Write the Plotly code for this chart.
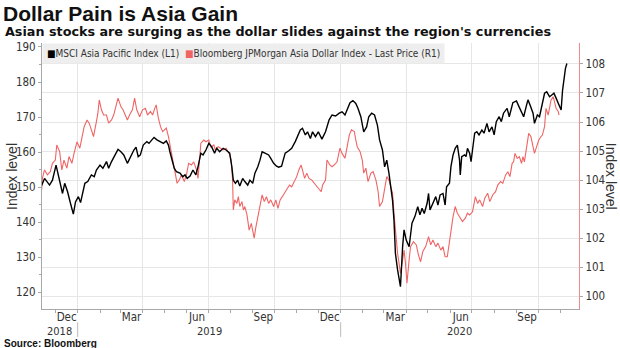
import plotly.graph_objects as go
import pandas as pd

# ---------------- data ----------------
msci_dates = [
    "2018-11-12","2018-11-16","2018-11-23","2018-11-27","2018-12-02","2018-12-07","2018-12-11","2018-12-14",
    "2018-12-18","2018-12-22","2018-12-26","2018-12-29","2019-01-02","2019-01-05","2019-01-08","2019-01-11",
    "2019-01-15","2019-01-20","2019-01-24","2019-01-27","2019-02-01","2019-02-05","2019-02-10","2019-02-13",
    "2019-02-17","2019-02-21","2019-02-26","2019-03-02","2019-03-06","2019-03-11","2019-03-15","2019-03-20",
    "2019-03-23","2019-03-26","2019-03-29","2019-04-02","2019-04-07","2019-04-10","2019-04-14","2019-04-17",
    "2019-04-21","2019-04-25","2019-04-30","2019-05-04","2019-05-07","2019-05-09","2019-05-12","2019-05-15",
    "2019-05-18","2019-05-23","2019-05-27","2019-05-30","2019-06-02","2019-06-06","2019-06-10","2019-06-14",
    "2019-06-17","2019-06-21","2019-06-24","2019-06-28","2019-07-02","2019-07-06","2019-07-10","2019-07-13",
    "2019-07-17","2019-07-22","2019-07-26","2019-07-31","2019-08-03","2019-08-05","2019-08-08","2019-08-11",
    "2019-08-14","2019-08-18","2019-08-21","2019-08-25","2019-08-28","2019-09-01","2019-09-04","2019-09-08",
    "2019-09-11","2019-09-14","2019-09-18","2019-09-23","2019-09-26","2019-09-30","2019-10-04","2019-10-07",
    "2019-10-11","2019-10-16","2019-10-21","2019-10-25","2019-10-30","2019-11-02","2019-11-06","2019-11-09",
    "2019-11-13","2019-11-16","2019-11-20","2019-11-23","2019-11-27","2019-12-01","2019-12-06","2019-12-11",
    "2019-12-16","2019-12-20","2019-12-25","2019-12-30","2020-01-03","2020-01-07","2020-01-10","2020-01-14",
    "2020-01-18","2020-01-22","2020-01-25","2020-01-29","2020-02-02","2020-02-06","2020-02-09","2020-02-13",
    "2020-02-17","2020-02-21","2020-02-24","2020-02-28","2020-03-02","2020-03-05","2020-03-08","2020-03-10",
    "2020-03-13","2020-03-15","2020-03-17","2020-03-20","2020-03-22","2020-03-24","2020-03-27","2020-03-29",
    "2020-04-01","2020-04-05","2020-04-09","2020-04-13","2020-04-17","2020-04-20","2020-04-23","2020-04-26",
    "2020-04-30","2020-05-02","2020-05-04","2020-05-08","2020-05-12","2020-05-15","2020-05-18","2020-05-22",
    "2020-05-25","2020-05-27","2020-05-31","2020-06-02","2020-06-05","2020-06-08","2020-06-11","2020-06-14",
    "2020-06-15","2020-06-17","2020-06-21","2020-06-23","2020-06-25","2020-06-28","2020-06-30","2020-07-02",
    "2020-07-05","2020-07-08","2020-07-11","2020-07-15","2020-07-18","2020-07-22","2020-07-25","2020-07-29",
    "2020-08-01","2020-08-04","2020-08-08","2020-08-11","2020-08-14","2020-08-19","2020-08-22","2020-08-27",
    "2020-09-01","2020-09-04","2020-09-08","2020-09-11","2020-09-15","2020-09-17","2020-09-20","2020-09-24",
    "2020-09-26","2020-09-30","2020-10-03","2020-10-06","2020-10-10","2020-10-13","2020-10-17","2020-10-20",
    "2020-10-23","2020-10-26","2020-10-30","2020-11-02","2020-11-04","2020-11-06","2020-11-08","2020-11-10",
]
msci_values = [
    150.5,152.5,150.6,152.0,156.3,151.6,148.2,151.1,
    148.7,145.4,142.3,145.8,147.3,145.6,148.2,151.1,
    151.6,153.5,153.0,154.9,156.3,155.4,157.3,155.4,
    157.3,158.7,160.8,160.1,159.2,156.8,158.7,160.6,
    161.4,158.7,159.2,162.0,163.0,162.5,163.5,164.2,
    163.5,163.0,162.5,163.2,162.0,160.1,157.3,155.4,
    154.4,154.0,153.0,153.5,152.5,153.2,154.9,153.5,
    155.8,159.7,159.2,160.6,162.5,161.5,159.7,161.1,
    160.1,161.1,160.6,159.7,155.8,152.0,151.1,152.0,
    150.3,152.5,151.6,150.6,152.0,151.1,154.0,155.8,
    157.7,160.1,159.7,159.2,158.2,156.8,156.0,155.7,
    156.0,159.7,160.4,161.1,163.0,164.4,166.3,166.8,
    164.9,165.8,163.9,165.8,164.4,165.8,163.7,165.8,
    169.2,170.6,170.3,171.1,171.5,170.6,172.0,174.1,
    174.7,173.9,172.5,170.1,165.8,167.2,170.1,171.1,
    170.6,167.7,163.5,160.6,155.8,157.7,154.0,151.1,
    146.3,140.6,131.1,126.4,124.5,121.6,133.0,137.8,
    134.9,133.0,139.7,141.6,144.4,142.1,144.0,142.5,
    145.4,148.2,143.5,145.4,147.3,144.9,147.8,148.2,
    144.9,150.1,151.1,155.8,159.2,161.1,162.0,157.7,
    153.5,158.7,159.2,158.7,161.1,159.7,157.3,160.6,
    165.4,165.8,164.9,166.3,165.4,168.2,165.8,167.2,
    164.9,168.7,170.1,168.7,171.1,172.5,170.1,174.1,
    174.6,173.2,171.5,170.1,173.4,174.9,173.4,171.1,
    168.2,170.6,170.1,173.4,176.8,177.2,175.8,176.3,
    176.8,175.4,173.4,172.0,177.7,181.5,183.9,185.3,
]

adxy_dates = [
    "2018-11-12","2018-11-13","2018-11-16","2018-11-20","2018-11-24","2018-11-27","2018-12-01","2018-12-03",
    "2018-12-07","2018-12-10","2018-12-13","2018-12-17","2018-12-20","2018-12-24","2018-12-27","2018-12-31",
    "2019-01-04","2019-01-07","2019-01-10","2019-01-14","2019-01-17","2019-01-20","2019-01-23","2019-01-27",
    "2019-01-29","2019-01-31","2019-02-03","2019-02-06","2019-02-10","2019-02-13","2019-02-17","2019-02-20",
    "2019-02-24","2019-02-26","2019-03-02","2019-03-05","2019-03-08","2019-03-11","2019-03-14","2019-03-18",
    "2019-03-21","2019-03-24","2019-03-28","2019-04-01","2019-04-05","2019-04-08","2019-04-12","2019-04-15",
    "2019-04-18","2019-04-20","2019-04-23","2019-04-26","2019-04-29","2019-05-02","2019-05-04","2019-05-07",
    "2019-05-10","2019-05-13","2019-05-16","2019-05-19","2019-05-22","2019-05-25","2019-05-29","2019-06-01",
    "2019-06-04","2019-06-08","2019-06-11","2019-06-15","2019-06-17","2019-06-19","2019-06-21","2019-06-25",
    "2019-06-28","2019-07-02","2019-07-05","2019-07-09","2019-07-11","2019-07-15","2019-07-18","2019-07-22",
    "2019-07-26","2019-07-31","2019-08-02","2019-08-04","2019-08-05","2019-08-07","2019-08-10","2019-08-12",
    "2019-08-14","2019-08-17","2019-08-19","2019-08-21","2019-08-24","2019-08-27","2019-08-30","2019-09-01",
    "2019-09-03","2019-09-05","2019-09-08","2019-09-11","2019-09-14","2019-09-17","2019-09-20","2019-09-23",
    "2019-09-26","2019-09-30","2019-10-03","2019-10-06","2019-10-09","2019-10-12","2019-10-16","2019-10-19",
    "2019-10-22","2019-10-25","2019-10-29","2019-11-01","2019-11-04","2019-11-07","2019-11-09","2019-11-12",
    "2019-11-15","2019-11-18","2019-11-22","2019-11-26","2019-12-01","2019-12-05","2019-12-07","2019-12-11",
    "2019-12-13","2019-12-17","2019-12-20","2019-12-23","2019-12-27","2019-12-31","2020-01-03","2020-01-07",
    "2020-01-09","2020-01-13","2020-01-16","2020-01-20","2020-01-22","2020-01-24","2020-01-28","2020-01-31",
    "2020-02-02","2020-02-05","2020-02-08","2020-02-12","2020-02-15","2020-02-19","2020-02-22","2020-02-24",
    "2020-02-28","2020-03-02","2020-03-05","2020-03-08","2020-03-10","2020-03-13","2020-03-15","2020-03-17",
    "2020-03-20","2020-03-22","2020-03-24","2020-03-27","2020-03-29","2020-03-31","2020-04-02","2020-04-05",
    "2020-04-07","2020-04-11","2020-04-15","2020-04-18","2020-04-21","2020-04-24","2020-04-28","2020-05-02",
    "2020-05-05","2020-05-08","2020-05-12","2020-05-15","2020-05-19","2020-05-22","2020-05-25","2020-05-28",
    "2020-05-30","2020-06-02","2020-06-05","2020-06-08","2020-06-11","2020-06-14","2020-06-18","2020-06-22",
    "2020-06-25","2020-06-28","2020-07-02","2020-07-06","2020-07-09","2020-07-12","2020-07-16","2020-07-19",
    "2020-07-23","2020-07-26","2020-07-30","2020-08-03","2020-08-06","2020-08-10","2020-08-13","2020-08-17",
    "2020-08-20","2020-08-23","2020-08-26","2020-08-28","2020-08-30","2020-09-02","2020-09-05","2020-09-08",
    "2020-09-10","2020-09-12","2020-09-15","2020-09-18","2020-09-21","2020-09-23","2020-09-26","2020-09-29",
    "2020-10-02","2020-10-05","2020-10-07","2020-10-10","2020-10-12","2020-10-15","2020-10-17","2020-10-19",
    "2020-10-22","2020-10-24","2020-10-26","2020-10-29","2020-10-30",
]
adxy_values = [
    103.66,104.06,104.35,104.18,104.29,104.58,104.69,105.21,
    104.98,104.35,104.69,104.41,104.81,104.58,104.92,105.32,
    105.10,105.50,105.84,106.07,105.96,105.73,105.50,106.01,
    106.30,106.76,106.42,106.24,106.24,105.96,106.07,106.24,
    106.65,106.82,106.53,106.42,106.24,106.07,106.24,106.42,
    106.82,106.42,106.18,106.42,106.47,106.24,106.36,106.24,
    106.47,106.59,106.13,105.84,105.67,105.73,105.79,105.50,
    105.10,104.69,104.29,103.89,104.00,104.18,103.95,104.18,
    104.58,104.52,104.63,104.35,104.06,104.81,105.27,105.38,
    105.32,105.38,105.13,105.21,105.04,105.15,105.10,105.04,
    105.10,104.87,104.69,104.00,102.97,103.32,103.20,103.43,
    103.09,103.26,102.97,103.09,102.80,102.28,102.51,102.17,
    102.00,102.34,102.74,103.09,103.49,103.26,103.43,103.20,
    103.32,103.09,103.32,103.03,103.32,103.43,103.60,103.72,
    103.83,103.77,103.95,104.12,104.35,104.52,104.35,104.06,
    104.24,104.06,104.00,103.89,103.72,103.60,103.83,104.00,
    104.69,104.52,104.46,104.52,104.63,105.10,104.92,104.75,
    105.04,105.55,105.73,105.67,105.38,105.15,104.98,104.69,
    104.24,104.41,103.95,104.24,104.29,104.00,103.60,103.09,
    103.26,103.77,104.12,104.00,103.83,103.55,102.86,102.17,
    101.48,101.14,100.79,101.25,101.59,101.14,100.45,101.25,
    101.71,101.88,101.77,101.42,101.19,101.54,101.71,102.05,
    101.77,101.94,101.71,101.83,101.59,101.71,101.36,101.36,
    101.71,102.40,102.74,103.09,102.86,102.74,102.57,102.69,
    102.86,102.80,102.91,103.43,103.20,103.32,103.09,103.38,
    103.55,103.26,103.49,103.60,103.83,103.95,103.89,104.18,
    104.29,104.12,104.58,104.63,104.92,104.75,104.81,104.58,
    104.81,104.63,105.15,105.61,105.50,105.27,104.92,105.15,
    105.38,105.50,105.55,105.84,106.47,106.24,106.59,106.76,
    106.87,106.65,106.47,106.36,106.24,
]

series_names = ["MSCI Asia Pacific Index (L1)",
                "Bloomberg JPMorgan Asia Dollar Index - Last Price (R1)"]
series_colors = ["#000000", "#f06464"]

quarter_ticks = ["2019-01-01", "2019-04-01", "2019-07-01", "2019-10-01",
                 "2020-01-01", "2020-04-01", "2020-07-01", "2020-10-01"]
month_labels = ["Dec", "Mar", "Jun", "Sep", "Dec", "Mar", "Jun", "Sep"]
year_labels = ["2018", "2019", "2020"]
year_breaks = ["2019-01-01", "2020-01-01"]
left_ticks = [120, 130, 140, 150, 160, 170, 180, 190]
right_ticks = [100, 101, 102, 103, 104, 105, 106, 107, 108]

x_range = ["2018-11-12 12:00", "2020-11-26 19:00"]
left_range = [115.24, 191.13]
right_range = [99.563, 108.72]

title = "Dollar Pain is Asia Gain"
subtitle = "Asian stocks are surging as the dollar slides against the region's currencies"
source = "Source: Bloomberg"
axis_title = "Index level"

# ---------------- styling ----------------
NARROW = "Liberation Sans Narrow, Arial Narrow, DejaVu Sans Condensed, sans-serif"
SANS = "Liberation Sans, Arial, sans-serif"
WIDE = "DejaVu Sans, Verdana, sans-serif"
TXT = "#333333"
GRID = "#e6e6e6"
AX = "#a8a8a8"

fig = go.Figure()
# red series on the (right-hand) base axis, black on the overlaying left axis so it sits on top
fig.add_trace(go.Scatter(x=pd.to_datetime(adxy_dates), y=adxy_values, name=series_names[1],
                         mode="lines", line=dict(color=series_colors[1], width=1.1),
                         xaxis="x", yaxis="y", showlegend=False))
fig.add_trace(go.Scatter(x=pd.to_datetime(msci_dates), y=msci_values, name=series_names[0],
                         mode="lines", line=dict(color=series_colors[0], width=1.4),
                         xaxis="x", yaxis="y2", showlegend=False))

# year label positions: centre of the visible part of each year
xr0, xr1 = pd.Timestamp(x_range[0]), pd.Timestamp(x_range[1])
annotations = []
for yl in year_labels:
    a = max(pd.Timestamp(f"{yl}-01-01"), xr0)
    b = min(pd.Timestamp(f"{int(yl) + 1}-01-01"), xr1)
    annotations.append(dict(x=a + (b - a) / 2, y=-0.0835, xref="x", yref="paper",
                            text=yl, showarrow=False, xanchor="center", yanchor="middle",
                            borderpad=0, font=dict(family=NARROW, size=11, color=TXT)))

legend_text = (f"<span style='color:{series_colors[0]}'>■</span>{series_names[0]}  "
               f"<span style='color:{series_colors[1]}'>■</span>{series_names[1]}")
annotations += [
    dict(x=0.0, y=1.0, xref="paper", yref="paper", xanchor="left", yanchor="top",
         text=legend_text, showarrow=False, bgcolor="#eeeeee", borderpad=4,
         font=dict(family=NARROW, size=10, color=TXT)),
    dict(x=-0.0726, y=1.045, xref="paper", yref="paper", xanchor="left", yanchor="middle",
         text=f"<b>{subtitle}</b>", showarrow=False,
         font=dict(family=WIDE, size=12.75, color="#111111")),
    dict(x=-0.0726, y=-0.13, xref="paper", yref="paper", xanchor="left", yanchor="middle",
         text=f"<b>{source}</b>", showarrow=False, borderpad=0,
         font=dict(family=SANS, size=10, color="#111111")),
    dict(x=-0.056, y=0.5, xref="paper", yref="paper", xanchor="center", yanchor="middle",
         text=axis_title, textangle=-90, showarrow=False,
         font=dict(family=SANS, size=14, color=TXT)),
    dict(x=1.06, y=0.5, xref="paper", yref="paper", xanchor="center", yanchor="middle",
         text=axis_title, textangle=90, showarrow=False,
         font=dict(family=SANS, size=14, color=TXT)),
]

shapes = [dict(type="line", xref="x", yref="paper", x0=d, x1=d, y0=-0.05, y1=-0.105,
               line=dict(color="#bbbbbb", width=1)) for d in year_breaks]

fig.update_layout(
    width=620, height=348,
    margin=dict(l=42, r=41, t=43, b=39),
    paper_bgcolor="white", plot_bgcolor="white",
    title=dict(text=f"<b>{title}</b>", x=3 / 620, xref="container", xanchor="left",
               y=1 - 13.5 / 348, yref="container", yanchor="middle",
               font=dict(family=SANS, size=21, color="#111111")),
    xaxis=dict(type="date", range=x_range, tickmode="array", tickvals=quarter_ticks,
               ticktext=month_labels, ticklabelshift=-11, ticklabelstandoff=-6,
               ticks="outside", ticklen=3, tickcolor=AX,
               showgrid=True, gridcolor=GRID, gridwidth=1,
               showline=True, linecolor=AX, zeroline=False,
               tickfont=dict(family=NARROW, size=11.5, color=TXT),
               minor=dict(dtick="M1", tick0="2018-11-01", ticks="outside", ticklen=3,
                          tickcolor=AX, showgrid=False)),
    yaxis=dict(range=right_range, side="right", tickmode="array", tickvals=right_ticks,
               ticks="outside", ticklen=3, tickcolor=AX,
               showgrid=True, gridcolor=GRID, gridwidth=1,
               showline=True, linecolor="#f08a8a", linewidth=1.2, zeroline=False,
               tickfont=dict(family=NARROW, size=11.5, color=TXT)),
    yaxis2=dict(range=left_range, side="left", overlaying="y", anchor="x",
                tickmode="array", tickvals=left_ticks,
                ticks="outside", ticklen=3, tickcolor=AX,
                showgrid=False, showline=True, linecolor=AX, zeroline=False,
                tickfont=dict(family=NARROW, size=11.5, color=TXT),
                minor=dict(dtick=5, ticks="outside", ticklen=2, tickcolor=AX, showgrid=False)),
    showlegend=False,
    annotations=annotations,
    shapes=shapes,
)

fig.write_html("out.html")
